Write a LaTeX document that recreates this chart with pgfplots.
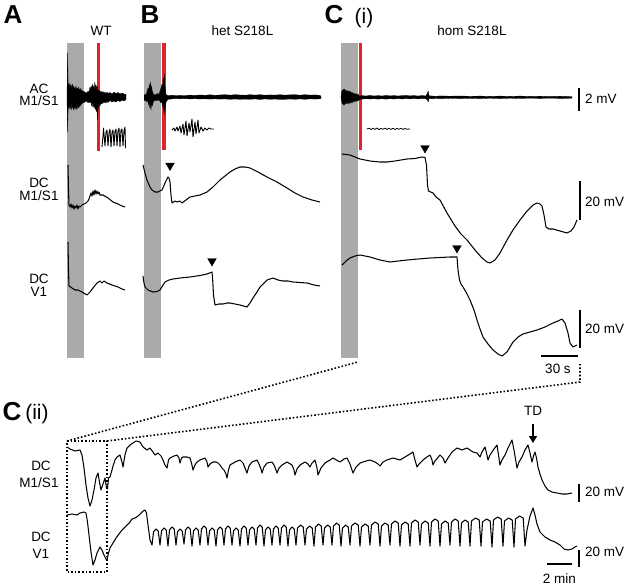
\documentclass[border=0pt]{standalone}
\usepackage{fontspec}
\setmainfont{Liberation Sans}
\usepackage{pgfplots}
\pgfplotsset{compat=1.18}
\usetikzlibrary{arrows.meta}
\definecolor{cStim}{HTML}{AAAAAA}
\definecolor{cRed}{HTML}{E3222B}
\newcommand{\lblfont}{\fontsize{13.5}{13.5}\selectfont}
\newcommand{\panelfont}{\fontsize{26}{26}\selectfont\bfseries}
\newcommand{\subfont}{\fontsize{21}{21}\selectfont}
\pgfplotsset{
  trace/.style={black, line width=1.05pt, line join=round},
  noise/.style={fill=black, draw=black, line width=0.3pt, line join=round},
  sbar/.style={black, line width=2.6pt},
}
\begin{document}
\begin{tikzpicture}[every node/.style={inner sep=0pt}]
\begin{axis}[width=632pt, height=587pt, scale only axis,
  xmin=0, xmax=632, ymin=0, ymax=587, y dir=reverse,
  hide axis, clip=false]
\path (axis cs:0,0) rectangle (axis cs:632,587);

% stimulation windows (grey) and light-off markers (red)
\addplot[fill=cStim, draw=none] coordinates {(67,43)(84,43)(84,358)(67,358)};
\addplot[fill=cStim, draw=none] coordinates {(144,43)(161,43)(161,358)(144,358)};
\addplot[fill=cStim, draw=none] coordinates {(341,43)(358,43)(358,358)(341,358)};
\addplot[cRed, line width=3pt] coordinates {(98.5,43)(98.5,151)};
\addplot[cRed, line width=3.4pt] coordinates {(163.8,43)(163.8,150)};
\addplot[cRed, line width=3.4pt] coordinates {(360.5,43)(360.5,150)};

% ---- AC M1/S1 (envelopes) ----
\addplot[noise] coordinates {
(67,97)(67.6,53)(68.2,88)(68.8,84)(69.4,89)(70,83)(70.6,88)(71.2,85)(71.8,90)(72.4,84)(73,89)(73.6,86)(74.2,90)(74.8,87)(75.4,91)(76,86)(76.6,90)(77.2,88)(77.8,91)(78.4,87)(79,91)(79.6,89)(80.2,92)(80.8,88)(81.4,92)(82,90)(83,92)(84,91)(85,93)(86,92)(87,93.5)(88,91)(89,92)(90,87)(90.6,91)(91.2,86)(91.8,90)(92.4,84)(93,89)(93.6,86)(94.2,90)(94.8,82)(95.4,88)(96,85)(96.6,89)(97.2,86)(98,91)(99,90)(100,92)(101,91)(102,93)(103,91.5)(104,93)(105,92)(106,94)(107,92)(108,93.5)(110,92.5)(112,94)(114,92)(116,93.5)(118,92.5)(120,94)(122,93)(124,94)(126,94.5)
(126,99.5)(124,101)(122,100)(120,101.5)(118,100.5)(116,102)(114,101)(112,102)(110,100.5)(108,102.5)(107,101)(106,103)(105,101.5)(104,103)(103,102)(102,104)(101,103)(100,106)(99,104)(98,110)(97.6,120)(97,108)(96.4,112)(95.8,105)(95.2,110)(94.6,104)(94,108)(93.4,103)(92.8,107)(92.2,102)(91.6,106)(91,101)(90,103)(89,101.5)(88,103)(87,100.5)(86,102)(85,101)(84,103)(83,101.5)(82,104)(81.4,102)(80.8,106)(80.2,103)(79.6,107)(79,104)(78.4,108)(77.8,104)(77.2,109)(76.6,105)(76,110)(75.4,105)(74.8,109)(74.2,104)(73.6,110)(73,105)(72.4,108)(71.8,104)(71.2,110)(70.6,105)(70,109)(69.4,104)(68.8,108)(68.2,106)(67.6,132)(67,97)};
\addplot[noise] coordinates {
(144,96)(145,94)(146,95)(147,92)(148,88)(148.6,93)(149.2,84)(149.8,90)(150.4,82)(151,89)(151.6,86)(152.2,91)(153,93)(154,95)(156,94.5)(158,93.5)(159,94.5)(160,91)(161,88)(162,84)(162.6,89)(163.2,78)(163.8,84)(164.3,74)(164.8,85)(165.4,90)(166,94.5)(168,95.6)(172,95.2)(176,95.6)(180,95.4)(185,95.6)(190,95.1)(195,95.4)(200,95)(205,95.3)(210,94.8)(215,95.3)(220,95)(225,94.7)(230,95.1)(235,94.7)(240,95)(245,95.2)(250,94.7)(255,95.1)(260,94.7)(265,95.2)(270,94.9)(275,95.1)(280,94.7)(285,95.2)(290,94.8)(295,94.7)(300,95.2)(305,94.7)(310,95.1)(315,94.9)(320,95.4)(321,96.5)
(321,98.5)(320,98.8)(315,99.1)(310,98.8)(305,99.3)(300,98.9)(295,99.3)(290,99)(285,99.3)(280,99.5)(275,99)(270,99.3)(265,98.9)(260,99.4)(255,98.9)(250,99.3)(245,99.1)(240,99.3)(235,99)(230,99.3)(225,98.9)(220,99.1)(215,98.8)(210,99.1)(205,98.8)(200,99)(195,98.7)(190,98.9)(185,98.6)(180,98.8)(176,98.5)(172,98.9)(168,99.3)(166,102)(165.4,107)(164.8,115)(164.3,105)(163.8,111)(163.2,103)(162.6,107)(162,102)(161,103)(160,101)(158,100)(156,100.5)(154,100.5)(153,103)(152.2,106)(151.6,102)(151,110)(150.4,104)(149.8,108)(149.2,102)(148.6,105)(148,101)(147,102)(146,100)(145,101)(144,99)};
\addplot[noise] coordinates {
(341,97)(341.6,92)(342.2,90)(342.8,92)(343.4,89)(344,91)(344.6,89)(345.2,92)(346,90)(347,92)(348,90.5)(349,92)(350,91)(351,93)(352,92)(353,94)(354,93)(355,94.5)(356,93.5)(357,95)(358,94)(359,96)(362,95.6)(366,96)(370,95.4)(374,96)(378,95.6)(382,96)(386,95.4)(390,95.9)(394,95.6)(398,96)(402,95.6)(406,95.4)(410,95.9)(414,95.6)(418,96)(422,95.6)(426,95.9)(427.5,93)(428.3,91)(429,95.8)(432,96)(436,96.3)(440,95.9)(450,96.2)(460,96)(470,96.3)(480,96.1)(490,96.4)(500,96.1)(510,96.4)(520,96.1)(530,96.4)(540,96.2)(550,96.5)(560,96.2)(572,96.6)
(572,98.2)(560,98.4)(550,98.1)(540,98.4)(530,98.1)(520,98.5)(510,98.2)(500,98.6)(490,98.2)(480,98.6)(470,98.3)(460,98.6)(450,98.3)(440,98.7)(436,98.4)(432,98.8)(429,98.6)(428.3,102)(427.5,100)(426,98.8)(422,98.5)(418,98.9)(414,98.5)(410,98.9)(406,98.5)(402,99)(398,98.5)(394,99)(390,98.7)(386,99.1)(382,98.7)(378,99.1)(374,98.7)(370,99)(366,98.7)(362,99.1)(359,99.5)(358,101)(357,100)(356,101.5)(355,100.5)(354,102)(353,101)(352,103)(351,101.5)(350,103.5)(349,102)(348,104)(347,102)(346,104)(345.2,102)(344.6,105)(344,103)(343.4,105)(342.8,102)(342.2,104)(341.6,101)(341,97)};

% insets (expanded AC)
\addplot[black, line width=0.9pt, line join=round] coordinates {
(102,147)(103,136)(103.5,128)(105,146)(106,132)(107,130)(108,146)(109,133)(110,129)(111,147)(112,132)(113,130)(114,146)(115,131)(116,129)(117,146)(118,131)(119,128)(120,147)(121,130)(122,129)(123,146)(124,131)(125,127)(125.5,148)};
\addplot[black, line width=0.9pt, line join=round] coordinates {
(172,130)(174,128)(175,131)(177,127)(178,131)(180,126)(181,133)(183,124)(184,135)(186,121)(187,136)(189,123)(190,132)(192,119)(193,137)(195,122)(196,134)(198,120)(199,133)(201,127)(203,131)(205,128)(207,130)(209,128)(211,129)(214,129)};
\addplot[black, line width=0.8pt, line join=round] coordinates {
(367,129)(369,128.2)(371,129.5)(373,128.3)(375,129.4)(377,128)(379,129.6)(381,128.4)(383,129.3)(385,128.1)(387,129.5)(389,128.3)(391,129.4)(393,128.2)(395,129.5)(397,128.4)(399,129.3)(401,128.2)(403,129.4)(405,128.5)(407,129.2)(410,129)};

% ---- DC M1/S1 ----
\addplot[trace] coordinates {
(68,165)(68.5,190)(69,205)(70,207)(71,204)(72,208)(73,205)(74,209)(75,206)(76,208)(77,205)(78,209)(79,206)(80,207)(82,205)(84,204)(86,203)(88,201)(89,199)(90,196)(91,193)(92,196)(93,191)(94,195)(95,190)(96,194)(97,191)(98,194)(99,192)(100,195)(103,195)(108,198)(113,202)(118,204)(122,206)(125,207)};
\addplot[trace] coordinates {
(143,165)(145,173)(147,180)(150,187)(152,190)(155,192)(158,192)(162,190)(165,183)(168,177)(169,178)(170,182)(171,195)(172,203)(175,201)(177,202)(180,201)(182,203)(186,200)(190,197)(200,195)(207,192)(213,187)(220,180)(225,176)(230,172)(235,169)(240,167)(245,167)(250,168)(258,172)(267,177)(277,182)(287,188)(295,193)(303,197)(312,200)(320,202)};
\addplot[trace] coordinates {
(342,154)(350,155)(355,157)(360,159)(370,161)(380,162)(387,162)(395,161)(407,159)(415,158.5)(422,157)(425,157.5)(426.5,165)(427.5,185)(428.5,191)(433,193)(436,197)(440,200)(447,213)(455,226)(461,234)(467,240)(475,250)(482,258)(487,262)(490,263)(495,260)(500,253)(507,240)(513,230)(520,220)(527,211)(533,205)(537,203)(540,204)(542,206)(544,215)(546,227)(549,229)(553,229)(560,231)(567,233)(571,231)(574,227)(577,220)};

% ---- DC V1 ----
\addplot[trace] coordinates {
(68,242)(68.5,270)(69,286)(72,288)(75,290)(78,290)(82,292)(87,295)(90,292)(93,288)(97,283)(100,281)(102,283)(104,281)(107,283)(112,285)(118,287)(122,289)(125,290)};
\addplot[trace] coordinates {
(143,276)(144,283)(145,287)(148,290)(153,292)(157,291.5)(160,290)(163,285)(165,282)(169,280)(173,279)(180,278)(190,277)(200,275.5)(207,274)(212,272)(212.7,280)(213.5,295)(215,305)(219,304)(223,304)(227,303)(230,303)(235,304)(240,305)(247,307)(250,303)(253,298)(257,292)(260,287)(264,283)(267,280)(273,278)(278,280)(283,281)(288,281)(293,282)(300,282.5)(307,283)(314,285)(320,286)};
\addplot[trace] coordinates {
(342,265)(346,261)(350,258)(355,256)(360,255)(365,256)(370,257)(380,260)(390,262)(398,261)(407,260)(418,259)(430,258)(440,257.5)(450,257)(457,257)(458,270)(459.5,280)(461,284)(463,287)(466,292)(470,300)(474,310)(477,320)(480,329)(483,337)(488,344)(493,350)(498,354)(502,356)(507,352)(510,347)(513,342)(518,337)(523,334)(530,332)(537,330)(545,327)(553,323)(558,321)(562,319)(565,323)(568,333)(570,343)(573,347)(577,345)};

% event markers
\addplot[only marks, mark=triangle*, mark size=5pt, mark options={rotate=180, fill=black, draw=black}] coordinates {(170,165.5)(212,261)(425,148)(457,248)};

% ---- C(ii) long recordings ----
\addplot[trace] coordinates {
(67,447)(70,449)(75,451)(80,450)(82,455)(84,468)(86,485)(88,498)(90,506)(92,500)(94,490)(96,478)(98,473)(99.5,482)(101,490)(103,484)(105,478)(106.5,488)(107.5,489)(108.5,478)(110,477)(112,470)(113,466)(115,460)(117,457)(120,455)(122,462)(123,467)(125,455)(127,448)(130,445)(133,443)(136,441)(140,442)(143,447)(147,450)(150,448)(153,452)(155,455)(158,453)(161,456)(163,460)(165,465)(167,468)(168.5,460)(170,458)(174,456)(177,455)(179,458)(180,463)(181.5,458)(183,457)(187,457)(190,458)(191.5,463)(193,470)(195,465)(197,462)(200,460)(205,458)(207,462)(208,467)(210,464)(213,462)(216,462)(218,463)(220,465)(222,468)(224,470)(226,474)(227,478)(228.5,470)(230,465)(235,462)(240,460)(243,463)(245,468)(247,473)(249,466)(252,462)(257,460)(259,464)(261,469)(262,473)(264,467)(267,463)(272,462)(274,465)(276,470)(277,473)(279,468)(282,465)(287,462)(292,465)(294,470)(295,475)(297,469)(300,465)(305,462)(308,464)(310,467)(312,463)(315,460)(317,468)(318,475)(321,468)(325,463)(330,460)(333,458)(340,462)(344,459)(347,458)(350,464)(353,473)(356,467)(360,463)(366,461)(370,460)(375,462)(378,464)(380,466)(383,462)(387,460)(393,458)(400,460)(405,457)(410,454)(413,452)(415,460)(417,467)(419,464)(423,460)(427,457)(430,455)(432,460)(433,465)(435,461)(440,455)(443,458)(445,463)(448,458)(452,452)(457,448)(462,450)(467,448)(473,452)(477,453)(480,457)(482,452)(485,447)(486.5,453)(488,460)(490,455)(494,449)(497,445)(498.5,455)(500,465)(502,460)(505,455)(508,448)(512,440)(514,450)(517,468)(519,462)(522,457)(525,450)(528,445)(530,453)(532,462)(533.5,456)(535,452)(536.5,458)(538,467)(540,474)(542,480)(545,486)(548,490)(552,492)(557,493)(562,494)(567,494)(572,493)};
\addplot[trace] coordinates {
(67,515)(72,514)(77,515)(80,513)(84,512)(86,513)(87.5,522)(89,535)(91,552)(93,565)(95,560)(97,553)(100,547)(102,550)(104,555)(106,559)(107,560)(108.5,553)(110,548)(113,543)(116,538)(119,534)(122,530)(125,527)(128,524)(130,522)(132,519)(135,518)(138,516)(141,513)(143,511)(145,510)(146.5,513)(148,525)(150,540)(152,545)
(153.5,532)(156,529)(158.2,531)(160,545)
(161.5,531)(164,528)(166.2,530)(168,546)
(169.5,530)(172,527)(174.2,529)(176,545)
(177.5,532)(180,529)(182.2,531)(184,544)
(185.5,530)(188,527)(190.2,529)(192,546)
(193.5,531)(196,528)(198.2,530)(200,545)
(201.5,529)(204,526)(206.2,528)(208,545)
(209.5,531)(212,528)(214.2,530)(216,546)
(217.5,530)(220,527)(222.2,529)(224,545)
(225.5,529)(228,526)(230.2,528)(232,545)
(233.5,531)(236,528)(238.2,530)(240,546)
(241.5,529)(244,526)(246.2,528)(248,545)
(249.5,530)(252,527)(254.2,529)(256,545)
(257.5,528)(260,525)(262.2,527)(264,546)
(265.5,530)(268,527)(270.2,529)(272,545)
(273.5,529)(276,526)(278.2,528)(280,545)
(281.5,528)(284,525)(286.2,527)(288,546)
(289.5,530)(292,527)(294.2,529)(296,545)
(297.5,528)(300.5,525)(303.2,527)(305,545)
(306.5,529)(309.5,526)(312.2,528)(314,546)
(315.5,527)(318.5,524)(321.2,526)(323,545)
(324.5,528)(327.5,525)(330.2,527)(332,545)
(333.5,526)(336.5,523)(339.2,525)(341,546)
(342.5,528)(345.5,525)(348.2,527)(350,545)
(351.5,526)(355,523)(358.2,525)(360,546)
(361.5,527)(365,524)(368.2,526)(370,545)
(371.5,525)(375,522)(378.2,524)(380,546)
(381.5,526)(385,523)(388.2,525)(390,545)
(391.5,524)(395,521)(398.2,523)(400,546)
(401.5,525)(405,522)(408.2,524)(410,546)
(411.5,523)(415,520)(418.2,522)(420,545)
(421.5,524)(425,521)(428.2,523)(430,546)
(431.5,522)(435,519)(438.2,521)(440,546)
(441.5,524)(445,521)(448.2,523)(450,545)
(451.5,522)(455,519)(458.2,521)(460,546)
(461.5,523)(465,520)(468.2,522)(470,546)
(471.5,521)(475.5,518)(479.2,520)(481,546)
(482.5,522)(486.5,519)(490.2,521)(492,547)
(493.5,520)(497.5,517)(501.2,519)(503,546)
(504.5,521)(508.5,518)(512.2,520)(514,547)
(515.5,519)(519.5,516)(523.2,518)(525,546)
(527,530)(530,516)(533,508)(535,515)(537,524)(540,532)(545,537)(550,540)(555,542)(560,545)(564,549)(568,550)(572,549)(575,547)(577,546)};

% zoom box and connectors
\addplot[black, dotted, line width=1.6pt] coordinates {(67,441)(107,441)(107,572)(67,572)(67,441)};
\addplot[black, dotted, line width=1.6pt] coordinates {(67,441)(358,362)};
\addplot[black, dotted, line width=1.6pt] coordinates {(107,441)(580,382)(580,364)};

% TD arrow
\addplot[black, line width=1.6pt, -{Triangle[length=7pt, width=8pt]}] coordinates {(533,424)(533,443)};

% scale bars
\addplot[sbar] coordinates {(579,88)(579,111)};
\addplot[sbar] coordinates {(580,181)(580,220)};
\addplot[sbar] coordinates {(580,310)(580,348)};
\addplot[sbar] coordinates {(541,356)(578,356)};
\addplot[sbar] coordinates {(579,484)(579,502)};
\addplot[sbar] coordinates {(579,550)(579,567)};
\addplot[sbar] coordinates {(547,564)(572,564)};

% text
\node[font=\panelfont, anchor=base] at (axis cs:13,23.5) {A};
\node[font=\panelfont, anchor=base] at (axis cs:150,23.5) {B};
\node[font=\panelfont, anchor=base] at (axis cs:334,23.5) {C};
\node[font=\subfont, anchor=base] at (axis cs:364,23.5) {(i)};
\node[font=\panelfont, anchor=base] at (axis cs:12,420) {C};
\node[font=\subfont, anchor=base] at (axis cs:37,419) {(ii)};

\node[font=\lblfont, anchor=base] at (axis cs:101,35) {WT};
\node[font=\lblfont, anchor=base] at (axis cs:242.5,35) {het S218L};
\node[font=\lblfont, anchor=base] at (axis cs:472,35) {hom S218L};

\node[font=\lblfont, anchor=base] at (axis cs:39,93) {AC};
\node[font=\lblfont, anchor=base] at (axis cs:39,105.5) {M1/S1};
\node[font=\lblfont, anchor=base] at (axis cs:39,187.5) {DC};
\node[font=\lblfont, anchor=base] at (axis cs:39,200.5) {M1/S1};
\node[font=\lblfont, anchor=base] at (axis cs:39,283.5) {DC};
\node[font=\lblfont, anchor=base] at (axis cs:39,296) {V1};
\node[font=\lblfont, anchor=base] at (axis cs:41,470) {DC};
\node[font=\lblfont, anchor=base] at (axis cs:39,487) {M1/S1};
\node[font=\lblfont, anchor=base] at (axis cs:41,541) {DC};
\node[font=\lblfont, anchor=base] at (axis cs:41,558) {V1};

\node[font=\lblfont, anchor=base west] at (axis cs:585,103.3) {2 mV};
\node[font=\lblfont, anchor=base west] at (axis cs:585,206.5) {20 mV};
\node[font=\lblfont, anchor=base west] at (axis cs:585,333) {20 mV};
\node[font=\lblfont, anchor=base] at (axis cs:558,373) {30 s};
\node[font=\lblfont, anchor=base west] at (axis cs:585,496.5) {20 mV};
\node[font=\lblfont, anchor=base west] at (axis cs:585,556.5) {20 mV};
\node[font=\lblfont, anchor=base] at (axis cs:559.5,583) {2 min};
\node[font=\lblfont, anchor=base] at (axis cs:533,415) {TD};
\end{axis}
\end{tikzpicture}
\end{document}
